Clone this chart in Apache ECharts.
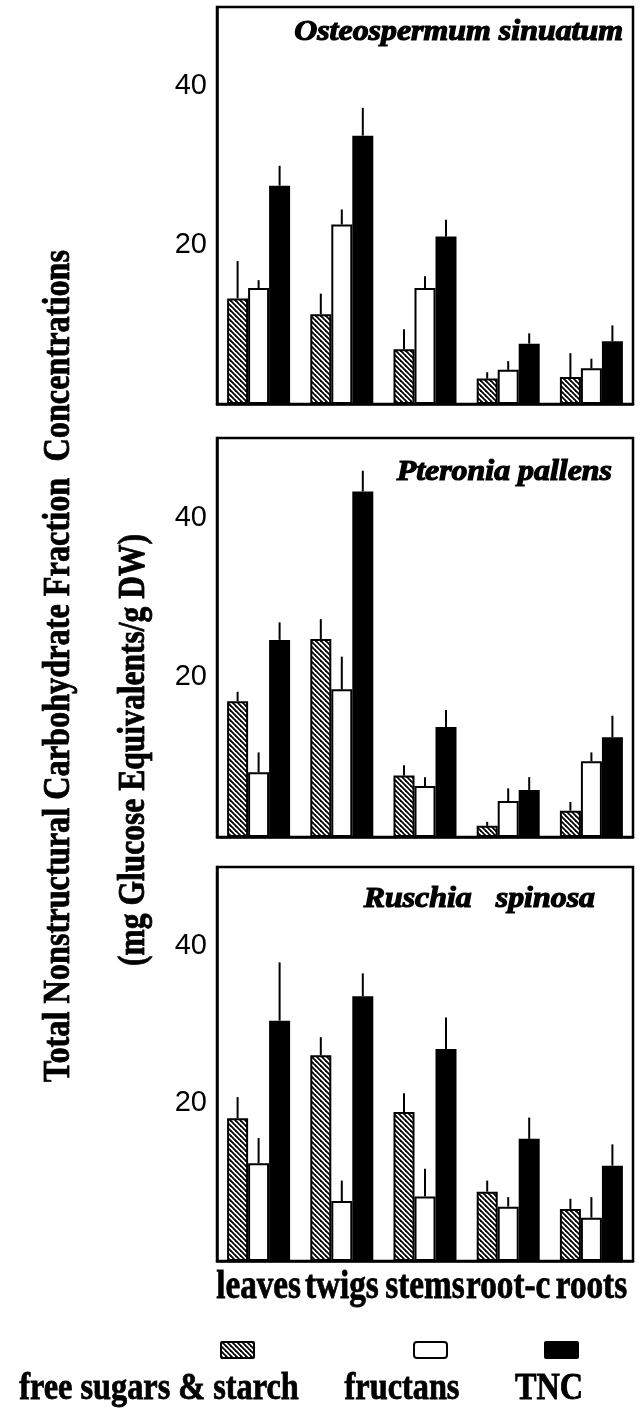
<!DOCTYPE html>
<html>
<head>
<meta charset="utf-8">
<script src="https://cdn.jsdelivr.net/npm/echarts@6.0.0/dist/echarts.min.js"></script>
<style>
  html, body { margin: 0; padding: 0; background: #fff; }
  #chart { width: 644px; height: 1408px; }
</style>
</head>
<body>
<div id="chart"></div>
<script>
// Plant organs sampled
const categories = ['leaves', 'twigs', 'stems', 'root-c', 'roots'];
const species = ['Osteospermum sinuatum', 'Pteronia pallens', 'Ruschia   spinosa'];
const fractionNames = ['free sugars & starch', 'fructans', 'TNC'];
const yTickLabels = [20, 40];

// Osteospermum sinuatum: means and upper error (mg glucose equivalents / g DW)
const osteoSugars      = [13.3, 11.3, 6.9, 3.2, 3.4];
const osteoSugarsErr   = [4.7, 2.6, 2.5, 0.8, 3.0];
const osteoFructans    = [14.6, 22.6, 14.6, 4.3, 4.5];
const osteoFructansErr = [1.0, 1.9, 1.5, 1.1, 1.2];
const osteoTNC         = [27.5, 33.8, 21.1, 7.6, 7.9];
const osteoTNCErr      = [2.5, 3.5, 2.1, 1.3, 2.0];

// Pteronia pallens
const pteroSugars      = [17.0, 24.8, 7.7, 1.4, 3.3];
const pteroSugarsErr   = [1.2, 2.5, 1.3, 0.5, 1.1];
const pteroFructans    = [8.1, 18.5, 6.4, 4.5, 9.5];
const pteroFructansErr = [2.5, 4.1, 1.1, 1.6, 1.1];
const pteroTNC         = [24.7, 43.3, 13.8, 5.9, 12.5];
const pteroTNCErr      = [2.2, 2.6, 2.1, 1.6, 2.7];

// Ruschia spinosa
const ruschSugars      = [18.1, 26.1, 18.9, 8.8, 6.6];
const ruschSugarsErr   = [2.7, 2.3, 2.4, 1.4, 1.3];
const ruschFructans    = [12.4, 7.6, 8.2, 6.9, 5.5];
const ruschFructansErr = [3.2, 2.6, 3.5, 1.2, 2.6];
const ruschTNC         = [30.5, 33.6, 26.9, 15.5, 12.1];
const ruschTNCErr      = [7.4, 2.9, 4.0, 2.7, 2.7];

const panels = [
  { name: species[0], vals: [osteoSugars, osteoFructans, osteoTNC], errs: [osteoSugarsErr, osteoFructansErr, osteoTNCErr] },
  { name: species[1], vals: [pteroSugars, pteroFructans, pteroTNC], errs: [pteroSugarsErr, pteroFructansErr, pteroTNCErr] },
  { name: species[2], vals: [ruschSugars, ruschFructans, ruschTNC], errs: [ruschSugarsErr, ruschFructansErr, ruschTNCErr] }
];

// Diagonal hatching used for the free sugars & starch fraction
function hatchCanvas() {
  const s = 5;
  const c = document.createElement('canvas');
  c.width = s; c.height = s;
  const g = c.getContext('2d');
  g.fillStyle = '#fff';
  g.fillRect(0, 0, s, s);
  g.strokeStyle = '#000';
  g.lineWidth = 1.8;
  for (let k = -1; k <= 1; k++) {
    g.beginPath();
    g.moveTo(-1, -1 + s * k);
    g.lineTo(s + 1, s + 1 + s * k);
    g.stroke();
  }
  return c;
}
const hatch = { image: hatchCanvas(), repeat: 'repeat' };

const BAR_W = 21;
const fills = [
  { color: hatch, borderColor: '#000', borderWidth: 2 },
  { color: '#fff', borderColor: '#000', borderWidth: 2 },
  { color: '#000', borderColor: '#000', borderWidth: 0 }
];
const offsets = [-BAR_W, 0, BAR_W];

const gridBoxes = [
  { top: 7, height: 397 },
  { top: 438, height: 399 },
  { top: 867, height: 394 }
];

const grids = [], xAxes = [], yAxes = [], series = [];
gridBoxes.forEach((b, gi) => {
  grids.push({
    left: 217, width: 416, top: b.top, height: b.height,
    show: true, borderColor: '#000', borderWidth: 2.5, backgroundColor: 'transparent'
  });
  xAxes.push({
    type: 'category', gridIndex: gi, data: categories,
    axisLine: { lineStyle: { color: '#000', width: 2.5 } },
    axisTick: { inside: true, alignWithLabel: true, length: 5, lineStyle: { color: '#000', width: 2 } },
    axisLabel: { show: false }
  });
  yAxes.push({
    type: 'value', gridIndex: gi, min: 0, max: 50, interval: 10,
    axisLine: { show: true, lineStyle: { color: '#000', width: 2.5 } },
    axisTick: { inside: true, length: 8, lineStyle: { color: '#000', width: 2 } },
    splitLine: { show: false },
    axisLabel: {
      margin: 10, color: '#000', fontSize: 29, fontFamily: '"Liberation Sans", Arial, sans-serif',
      formatter: v => (yTickLabels.indexOf(v) >= 0 ? String(v) : '')
    }
  });
  const p = panels[gi];
  p.vals.forEach((vals, si) => {
    series.push({
      type: 'bar', name: fractionNames[si], xAxisIndex: gi, yAxisIndex: gi,
      data: vals, barWidth: BAR_W, barGap: '0%',
      itemStyle: fills[si], z: 2
    });
  });
  p.vals.forEach((vals, si) => {
    const off = offsets[si];
    series.push({
      type: 'custom', xAxisIndex: gi, yAxisIndex: gi, z: 3,
      data: vals.map((v, i) => [i, v, p.errs[si][i]]),
      encode: { x: 0, y: 1 },
      renderItem: (params, api) => {
        const i = api.value(0), v = api.value(1), e = api.value(2);
        const a = api.coord([i, v]);
        const t = api.coord([i, v + e]);
        const x = a[0] + off;
        return {
          type: 'line',
          shape: { x1: x, y1: a[1], x2: x, y2: t[1] },
          style: { stroke: '#000', lineWidth: 2 }
        };
      }
    });
  });
});

const chart = echarts.init(document.getElementById('chart'), null, { renderer: 'canvas' });
chart.setOption({
  animation: false,
  backgroundColor: '#fff',
  grid: grids, xAxis: xAxes, yAxis: yAxes, series: series
});

const serif = '"Liberation Serif", "Times New Roman", serif';
const graphics = [];

// bold serif text, slightly thickened with an outline
function boldText(text, x, y, size, scaleX, extra) {
  return Object.assign({
    type: 'text', x: x, y: y, scaleX: scaleX,
    style: {
      text: text, fill: '#000', stroke: '#000', lineWidth: 0.8,
      fontSize: size, fontWeight: 'bold', fontFamily: serif,
      textAlign: 'center', textVerticalAlign: 'middle', verticalAlign: 'middle'
    }
  }, extra || {});
}

// species names in each panel
const titlePos = [[623, 33], [612, 473], [595, 900]];
species.forEach((s, i) => {
  graphics.push({
    type: 'text', x: titlePos[i][0], y: titlePos[i][1], scaleX: 1.1,
    style: {
      text: s, fill: '#000', stroke: '#000', lineWidth: 1.2,
      fontSize: 29, fontWeight: 'bold', fontStyle: 'italic', fontFamily: serif,
      textAlign: 'right', textVerticalAlign: 'middle', verticalAlign: 'middle'
    }
  });
});

// y-axis title, two lines
graphics.push(boldText('Total Nonstructural Carbohydrate Fraction  Concentrations', 59, 666, 38, 0.85,
  { rotation: Math.PI / 2 }));
graphics.push(boldText('(mg Glucose Equivalents/g DW)', 134, 750, 38, 0.83,
  { rotation: Math.PI / 2 }));

// organ labels under the bottom panel, placed at the category positions
categories.forEach((c, i) => {
  const px = chart.convertToPixel({ xAxisIndex: 2 }, c);
  graphics.push(boldText(c, Math.min(px, 600), 1288, 40, 0.83));
});

// legend keys
const keyBoxes = [[221, 1342], [414, 1342], [545, 1342]];
const keyFills = [hatch, '#fff', '#000'];
keyBoxes.forEach((k, i) => {
  graphics.push({
    type: 'rect', shape: { x: k[0], y: k[1], width: 33, height: 16, r: i === 1 ? 3 : 1 },
    style: { fill: keyFills[i], stroke: '#000', lineWidth: 2 }
  });
});
const keyText = [[159, 1389], [402, 1389], [549, 1389]];
fractionNames.forEach((n, i) => {
  graphics.push(boldText(n, keyText[i][0], keyText[i][1], 38, 0.85));
});

chart.setOption({ graphic: graphics });
</script>
</body>
</html>
